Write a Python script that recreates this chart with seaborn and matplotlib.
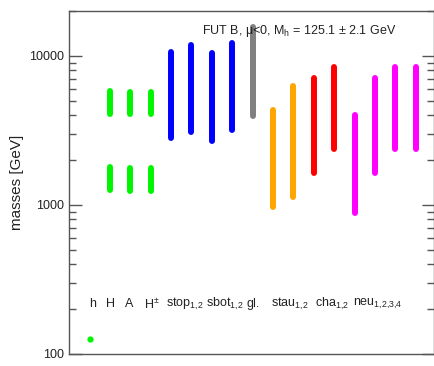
import numpy as np
import pandas as pd
import seaborn as sns
import matplotlib.pyplot as plt

# ----------------------------
# Data (GeV)
# ----------------------------
col_pos = [1, 1, 2, 2, 3, 3, 4, 5, 6, 7, 8, 9, 10, 11, 12, 13, 14, 15, 16]
seg_low = [4080, 1260, 4080, 1240, 4080, 1240, 2820, 3090, 2700, 3190, 3950,
           970, 1130, 1640, 2380, 880, 1640, 2380, 2380]
seg_high = [5820, 1800, 5700, 1780, 5700, 1780, 10600, 11900, 10500, 12200,
            15700, 4350, 6300, 7100, 8400, 4020, 7100, 8400, 8400]
seg_group = ["higgs"] * 6 + ["stop", "stop", "sbot", "sbot", "gl",
                             "stau", "stau", "cha", "cha",
                             "neu", "neu", "neu", "neu"]

h_pos = [0]
h_mass = [125.1]

labels = ["h", "H", "A", r"H$^{\pm}$", r"stop$_{1{,}2}$", r"sbot$_{1{,}2}$", "gl.",
          r"stau$_{1{,}2}$", r"cha$_{1{,}2}$", r"neu$_{1{,}2{,}3{,}4}$"]
label_x = [0.0, 0.8, 1.75, 2.65, 3.75, 5.7, 7.7, 8.9, 11.05, 12.9]

group_colors = {"higgs": "#00f500", "stop": "#0000ff", "sbot": "#0000ff",
                "gl": "#808080", "stau": "#ffa500", "cha": "#ff0000",
                "neu": "#ff00ff"}

# long table: one row per segment end
rows = []
for i, (x, lo, hi, g) in enumerate(zip(col_pos, seg_low, seg_high, seg_group)):
    rows.append({"x": x, "mass": lo, "seg": i, "group": g})
    rows.append({"x": x, "mass": hi, "seg": i, "group": g})
df = pd.DataFrame(rows)

# ----------------------------
# Style
# ----------------------------
sns.set_style("white")
plt.rcParams["font.family"] = ["Liberation Sans", "DejaVu Sans"]
plt.rcParams["mathtext.fontset"] = "custom"
plt.rcParams["mathtext.rm"] = "Liberation Sans"
plt.rcParams["mathtext.it"] = "Liberation Sans"

fig = plt.figure(figsize=(4.35, 3.66), dpi=100)
ax = fig.add_axes([0.159, 0.033, 0.839, 0.937])

sns.lineplot(data=df, x="x", y="mass", units="seg", hue="group",
             palette=group_colors, estimator=None, sort=False,
             linewidth=4.3, solid_capstyle="round", legend=False, ax=ax)
sns.scatterplot(x=h_pos, y=h_mass, color="#00f500", s=20, linewidth=0, ax=ax)

ax.set_yscale("log")
ax.set_ylim(100, 20000)
ax.set_xlim(-1, 16.9)
ax.set_xticks([])
ax.set_xlabel("")
ax.set_ylabel("masses [GeV]", fontsize=11, color="#222222")
ax.set_yticks([100, 1000, 10000])
ax.set_yticklabels(["100", "1000", "10000"], fontsize=9, color="#222222")
ax.tick_params(axis="y", which="major", direction="in", length=9, width=1,
               color="#555555", left=True, right=True)
ax.tick_params(axis="y", which="minor", direction="in", length=5, width=1,
               color="#555555", left=True, right=True)
for s in ax.spines.values():
    s.set_color("#555555")
    s.set_linewidth(1)

for lx, lab in zip(label_x, labels):
    ax.text(lx, 215, lab, fontsize=9, ha="left", va="center", color="#222222")

ax.text(0.364, 0.942, r"FUT B, μ<0, M$_\mathrm{h}$ = 125.1 ± 2.1 GeV",
        transform=ax.transAxes, fontsize=9, ha="left", va="center",
        color="#222222")

fig.savefig("out.png", dpi=100)
